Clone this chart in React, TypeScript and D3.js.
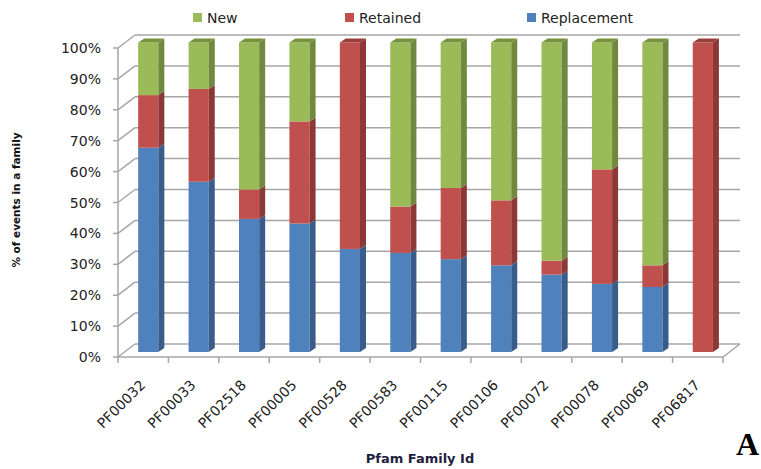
import React from "react";
import * as d3 from "d3";

const categories = [
  "PF00032", "PF00033", "PF02518", "PF00005", "PF00528", "PF00583",
  "PF00115", "PF00106", "PF00072", "PF00078", "PF00069", "PF06817",
];
const replacement = [66, 55, 43, 41.5, 33.3, 32, 30, 28, 25, 22, 21, 0];
const retained = [17, 30, 9.5, 33, 66.7, 15, 23, 21, 4.5, 37, 7, 100];
const newVals = [17, 15, 47.5, 25.5, 0, 53, 47, 51, 70.5, 41, 72, 0];
const seriesKeys = ["Replacement", "Retained", "New"];
const legendOrder = ["New", "Retained", "Replacement"];
const yTicks = [0, 10, 20, 30, 40, 50, 60, 70, 80, 90, 100];

const colors: Record<string, { front: string; side: string; top: string }> = {
  Replacement: { front: "#4F81BD", side: "#385D8A", top: "#3F6A9C" },
  Retained: { front: "#C0504D", side: "#8C3836", top: "#9A3E3B" },
  New: { front: "#9BBB59", side: "#71893F", top: "#76923C" },
};

const FONT = "DejaVu Sans, Verdana, sans-serif";

export default function App() {
  const W = 761, H = 469;
  const x = d3.scaleBand<string>().domain(categories).range([118, 723]).padding(0);
  const bw = x.bandwidth();
  const yFront = d3.scaleLinear().domain([0, 100]).range([357, 48]);
  const yBar = d3.scaleLinear().domain([0, 100]).range([352, 42.5]);
  const wallDx = 17, wallDy = -13;
  const barDx = 6, barDy = -4;

  const rows = categories.map((c, i) => ({
    cat: c,
    Replacement: replacement[i],
    Retained: retained[i],
    New: newVals[i],
  }));
  const stacked = d3.stack<any>().keys(seriesKeys)(rows);

  const axisX = x(categories[0])!;
  const endX = axisX + bw * categories.length;
  const gridColor = "#A6A6A6";

  return (
    <svg width={W} height={H} style={{ position: "absolute", left: 0, top: 0, background: "#fff" }}>
      {/* legend */}
      {legendOrder.map((k, i) => {
        const lx = [193, 345, 527][i];
        return (
          <g key={k}>
            <rect x={lx} y={13} width={9} height={9} fill={colors[k].front} />
            <text x={lx + 14} y={23} fontFamily={FONT} fontSize={14} fill="#222">{k}</text>
          </g>
        );
      })}

      {/* walls & gridlines */}
      {yTicks.map((t) => {
        const yf = yFront(t);
        const yb = yf + wallDy;
        return (
          <g key={t}>
            <line x1={axisX} y1={yf} x2={axisX + wallDx} y2={yb} stroke={gridColor} strokeWidth={1.5} />
            <line x1={axisX + wallDx} y1={yb} x2={endX + wallDx} y2={yb} stroke={gridColor} strokeWidth={1.5} />
            <line x1={axisX - 5} y1={yf} x2={axisX} y2={yf} stroke={gridColor} strokeWidth={1.5} />
            <text x={101} y={yf} dy="0.36em" textAnchor="end" fontFamily={FONT} fontSize={14} fill="#222">{t}%</text>
          </g>
        );
      })}
      <line x1={axisX} y1={yFront(0)} x2={axisX} y2={yFront(100)} stroke={gridColor} strokeWidth={1.5} />
      <line x1={axisX} y1={yFront(0)} x2={endX} y2={yFront(0)} stroke={gridColor} strokeWidth={1.5} />
      <line x1={endX} y1={yFront(0)} x2={endX + wallDx} y2={yFront(0) + wallDy} stroke={gridColor} strokeWidth={1.5} />
      {d3.range(categories.length + 1).map((i) => {
        const tx = axisX + i * bw;
        return <line key={i} x1={tx} y1={yFront(0)} x2={tx} y2={yFront(0) + 6} stroke={gridColor} strokeWidth={1.5} />;
      })}

      {/* bars */}
      {categories.map((c, ci) => {
        const bx = x(c)! + bw * 0.4;
        const bwid = bw * 0.4;
        const segs = stacked.map((s) => ({ key: s.key, y0: s[ci][0], y1: s[ci][1] })).filter((s) => s.y1 - s.y0 > 0);
        const topSeg = segs[segs.length - 1];
        return (
          <g key={c}>
            {segs.map((s) => {
              const yb = yBar(s.y0), yt = yBar(s.y1);
              const col = colors[s.key];
              return (
                <g key={s.key}>
                  <rect x={bx} y={yt} width={bwid} height={yb - yt} fill={col.front} />
                  <polygon
                    points={`${bx + bwid},${yb} ${bx + bwid + barDx},${yb + barDy} ${bx + bwid + barDx},${yt + barDy} ${bx + bwid},${yt}`}
                    fill={col.side}
                  />
                </g>
              );
            })}
            {topSeg && (
              <polygon
                points={`${bx},${yBar(topSeg.y1)} ${bx + barDx},${yBar(topSeg.y1) + barDy} ${bx + bwid + barDx},${yBar(topSeg.y1) + barDy} ${bx + bwid},${yBar(topSeg.y1)}`}
                fill={colors[topSeg.key].top}
              />
            )}
          </g>
        );
      })}

      {/* x labels */}
      {categories.map((c) => {
        const cx = x(c)! + bw / 2 + 3;
        const cy = 386;
        return (
          <text key={c} x={cx} y={cy} transform={`rotate(-45 ${cx} ${cy})`} textAnchor="end" fontFamily={FONT} fontSize={14} fill="#222">{c}</text>
        );
      })}

      {/* axis titles */}
      <text x={420} y={463} textAnchor="middle" fontFamily={FONT} fontSize={13} fontWeight="bold" fill="#1F1F3F">Pfam Family Id</text>
      <text transform="translate(20 200) rotate(-90)" textAnchor="middle" fontFamily={FONT} fontSize={10.5} fontWeight="bold" fill="#111">% of events in a family</text>
      <text x={736} y={455} fontFamily="Liberation Serif, Times New Roman, serif" fontSize={32} fontWeight="bold" fill="#000">A</text>
    </svg>
  );
}
